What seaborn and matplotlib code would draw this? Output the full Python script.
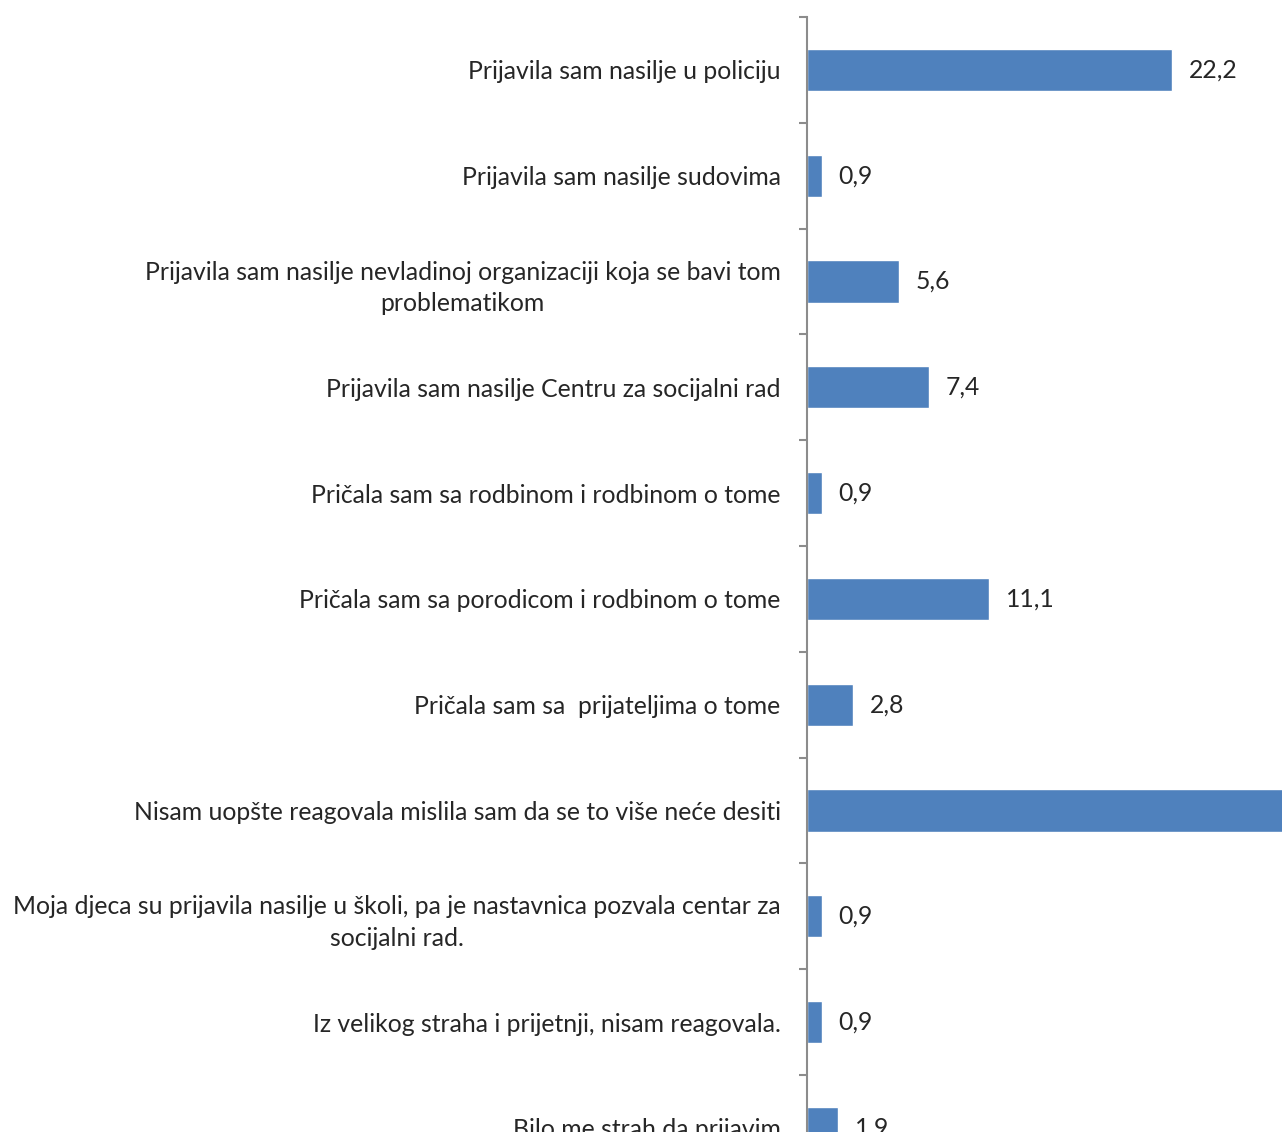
import numpy as np
import matplotlib.pyplot as plt
import seaborn as sns

kategorije = [
    "Prijavila sam nasilje u policiju",
    "Prijavila sam nasilje sudovima",
    "Prijavila sam nasilje nevladinoj organizaciji koja se bavi tom\nproblematikom",
    "Prijavila sam nasilje Centru za socijalni rad",
    "Pričala sam sa rodbinom i rodbinom o tome",
    "Pričala sam sa porodicom i rodbinom o tome",
    "Pričala sam sa  prijateljima o tome",
    "Nisam uopšte reagovala mislila sam da se to više neće desiti",
    "Moja djeca su prijavila nasilje u školi, pa je nastavnica pozvala centar za\nsocijalni rad.",
    "Iz velikog straha i prijetnji, nisam reagovala.",
    "Bilo me strah da prijavim",
]
procenti = [22.2, 0.9, 5.6, 7.4, 0.9, 11.1, 2.8, 38.9, 0.9, 0.9, 1.9]

sns.set_style("white")
plt.rcParams["font.family"] = ["Lato", "DejaVu Sans"]

W, H = 1282, 1132
fig = plt.figure(figsize=(W / 100, H / 100), dpi=100)

px_per_unit = 16.44
top_px = 17
row_px = 105.8
n = len(kategorije)
ax = fig.add_axes([807 / W, 1 - (top_px + n * row_px) / H,
                   (W - 807) / W, n * row_px / H])

sns.barplot(x=procenti, y=kategorije, orient="h", color="#4F81BD",
            saturation=1, width=0.4, ax=ax)

ax.set_xlim(0, (W - 807) / px_per_unit)
ax.set_ylim(n - 0.5, -0.5)
ax.set_xlabel("")
ax.set_ylabel("")
ax.set_xticks([])

for s in ["top", "right", "bottom"]:
    ax.spines[s].set_visible(False)
ax.spines["left"].set_color("#8C8C8C")
ax.spines["left"].set_linewidth(1.5)

ax.set_yticks(np.arange(-0.5, n, 1), minor=True)
ax.tick_params(axis="y", which="major", length=0, pad=19, labelsize=17.8)
ax.tick_params(axis="y", which="minor", length=6, width=1.5, color="#8C8C8C",
               direction="out", left=True)
for t in ax.get_yticklabels():
    t.set_multialignment("center")
    t.set_linespacing(1.45)

ax.bar_label(ax.containers[0],
             labels=[f"{v:.1f}".replace(".", ",") for v in procenti],
             padding=12, fontsize=17.8)

fig.savefig("out.png", dpi=100)
